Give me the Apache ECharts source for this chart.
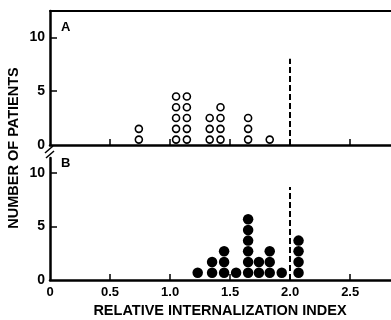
<!DOCTYPE html>
<html>
<head>
<meta charset="utf-8">
<script src="https://cdn.jsdelivr.net/npm/echarts@6/dist/echarts.min.js"></script>
<style>
html, body { margin: 0; padding: 0; background: #fff; }
#main { width: 391px; height: 320px; }
</style>
</head>
<body>
<div id="main"></div>
<script>
// ---- data ----
// panel A: open circles, one per patient, stacked per bin
var binsA = [0.74, 1.05, 1.14, 1.33, 1.42, 1.65, 1.83];
var countsA = [2, 5, 5, 3, 4, 3, 1];
// panel B: filled circles
var binsB = [1.23, 1.35, 1.45, 1.55, 1.65, 1.74, 1.83, 1.93, 2.07];
var countsB = [1, 2, 3, 1, 6, 2, 3, 1, 4];

var yTicks = [0, 5, 10];
var xTicks = [0, 0.5, 1.0, 1.5, 2.0, 2.5];
var cutoff = 2.0;
var dashTopA = 8;
var dashTopB = 8.7;

// one dot per patient, stacked on top of each other
function stack(bins, counts, offset) {
    var pts = [];
    for (var i = 0; i < bins.length; i++) {
        for (var k = 1; k <= counts[i]; k++) {
            pts.push([bins[i], k - offset]);
        }
    }
    return pts;
}

var chart = echarts.init(document.getElementById('main'));
var font = 'Liberation Sans';
var xMax = 2.84; // the axis runs off the right edge of the figure

function xAxisOf(grid, showLabels) {
    return {
        type: 'value', gridIndex: grid, min: 0, max: xMax, interval: 0.5,
        axisLine: { show: true, lineStyle: { color: '#000', width: 2.5 } },
        axisTick: { show: true, inside: true, length: 6, lineStyle: { color: '#000', width: 1.5 },
            customValues: [0.5, 1.0, 1.5, 2.5] },
        axisLabel: { show: showLabels, color: '#000', fontFamily: font, fontWeight: 'bold', fontSize: 13, margin: 6,
            customValues: xTicks,
            formatter: function (v) { return v === 0 ? '0' : v.toFixed(1); } },
        splitLine: { show: false }
    };
}

function yAxisOf(grid, max) {
    return {
        type: 'value', gridIndex: grid, min: 0, max: max,
        axisLine: { show: true, lineStyle: { color: '#000', width: 2.5 } },
        axisTick: { show: true, inside: true, length: 7, lineStyle: { color: '#000', width: 1.5 },
            customValues: [5, 10] },
        axisLabel: { color: '#000', fontFamily: font, fontWeight: 'bold', fontSize: 14, margin: 5,
            customValues: yTicks },
        splitLine: { show: false }
    };
}

function dashLine(top) {
    return {
        silent: true, symbol: 'none', label: { show: false },
        lineStyle: { color: '#000', width: 2, type: [6, 3] },
        data: [[{ coord: [cutoff, 0] }, { coord: [cutoff, top] }]]
    };
}

var topFrame = {
    type: 'value', gridIndex: 0, position: 'top', min: 0, max: xMax,
    axisLine: { show: true, lineStyle: { color: '#000', width: 2 } },
    axisTick: { show: false }, axisLabel: { show: false }, splitLine: { show: false }
};

var option = {
    animation: false,
    backgroundColor: '#fff',
    grid: [
        { left: 50, top: 11, right: 0, height: 134 },
        { left: 50, top: 158, right: 0, height: 122 }
    ],
    xAxis: [xAxisOf(0, false), xAxisOf(1, true), topFrame],
    yAxis: [yAxisOf(0, 12.44), yAxisOf(1, 11.4)],
    series: [
        {
            type: 'scatter', xAxisIndex: 0, yAxisIndex: 0,
            symbol: 'circle', symbolSize: 7,
            itemStyle: { color: '#fff', borderColor: '#000', borderWidth: 1.6, opacity: 1 },
            data: stack(binsA, countsA, 0.5),
            markLine: dashLine(dashTopA)
        },
        {
            type: 'scatter', xAxisIndex: 1, yAxisIndex: 1,
            symbol: 'circle', symbolSize: 10.5,
            itemStyle: { color: '#000', opacity: 1 },
            data: stack(binsB, countsB, 0.32),
            markLine: dashLine(dashTopB)
        }
    ],
    graphic: [
        { type: 'text', left: 61, top: 21, style: { text: 'A', font: 'bold 13px "Liberation Sans"', fill: '#000' } },
        { type: 'text', left: 61, top: 157, style: { text: 'B', font: 'bold 13px "Liberation Sans"', fill: '#000' } },
        // axis break marks between the panels
        { type: 'line', shape: { x1: 45, y1: 153, x2: 53, y2: 146 }, style: { stroke: '#000', lineWidth: 1.5 } },
        { type: 'line', shape: { x1: 46, y1: 158, x2: 54, y2: 151 }, style: { stroke: '#000', lineWidth: 1.5 } },
        { type: 'text', x: 14, y: 148, rotation: Math.PI / 2,
            style: { text: 'NUMBER OF PATIENTS', font: 'bold 14.5px "Liberation Sans"', fill: '#000',
                align: 'center', verticalAlign: 'middle' } },
        { type: 'text', x: 220, y: 311,
            style: { text: 'RELATIVE INTERNALIZATION INDEX', font: 'bold 14.5px "Liberation Sans"', fill: '#000',
                align: 'center', verticalAlign: 'middle' } }
    ]
};

chart.setOption(option);
</script>
</body>
</html>
